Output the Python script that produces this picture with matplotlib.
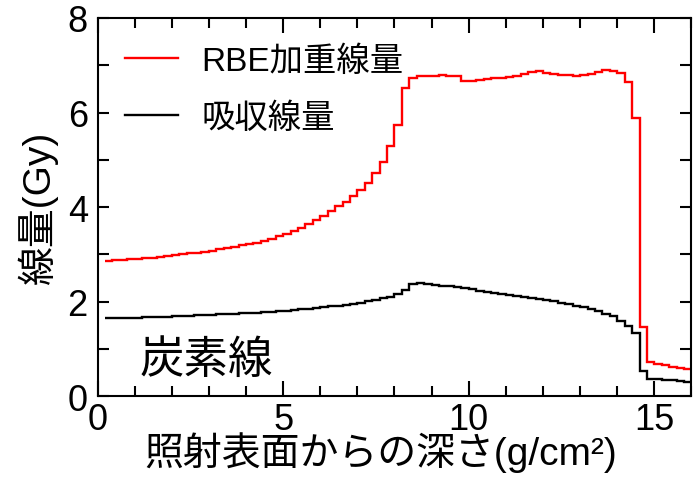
import numpy as np
import matplotlib
matplotlib.use("Agg")
import matplotlib.pyplot as plt
from matplotlib.ticker import MultipleLocator, FixedLocator

# depth bin edges (g/cm^2), 0.2 g/cm^2 wide
depth_edges = np.round(np.arange(0.2, 16.0001, 0.2), 1)

# RBE-weighted dose per depth bin (Gy)
rbe_dose = [
    2.87, 2.88, 2.89, 2.90, 2.91, 2.92, 2.93, 2.95, 2.96, 2.98,
    3.00, 3.02, 3.04, 3.06, 3.08, 3.11, 3.13, 3.16, 3.19, 3.22,
    3.25, 3.29, 3.33, 3.38, 3.43, 3.49, 3.56, 3.64, 3.73, 3.82,
    3.92, 4.02, 4.11, 4.23, 4.37, 4.52, 4.72, 4.96, 5.29, 5.74,
    6.52, 6.73, 6.77, 6.77, 6.77, 6.79, 6.78, 6.77, 6.66, 6.66,
    6.69, 6.71, 6.73, 6.74, 6.76, 6.78, 6.82, 6.85, 6.87, 6.83,
    6.81, 6.80, 6.80, 6.78, 6.79, 6.81, 6.86, 6.90, 6.87, 6.84,
    6.64, 5.88, 1.47, 0.72, 0.68, 0.66, 0.63, 0.60, 0.57,
]

# absorbed dose per depth bin (Gy)
abs_dose = [
    1.65, 1.65, 1.66, 1.66, 1.66, 1.67, 1.67, 1.68, 1.68, 1.69,
    1.69, 1.70, 1.71, 1.71, 1.72, 1.73, 1.74, 1.75, 1.76, 1.77,
    1.77, 1.78, 1.79, 1.80, 1.81, 1.83, 1.84, 1.85, 1.87, 1.88,
    1.90, 1.92, 1.94, 1.96, 1.98, 2.01, 2.04, 2.07, 2.11, 2.16,
    2.24, 2.37, 2.40, 2.38, 2.36, 2.34, 2.33, 2.31, 2.29, 2.26,
    2.23, 2.21, 2.19, 2.16, 2.14, 2.12, 2.10, 2.08, 2.06, 2.03,
    2.01, 1.98, 1.95, 1.91, 1.88, 1.84, 1.80, 1.75, 1.69, 1.60,
    1.48, 1.33, 0.53, 0.37, 0.36, 0.35, 0.34, 0.32, 0.31,
]

series_labels = ["RBE加重線量", "吸収線量"]
x_ticks = [0, 5, 10, 15]
y_ticks = [0, 2, 4, 6, 8]

plt.rcParams["font.family"] = ["Liberation Sans", "Noto Sans CJK JP", "DejaVu Sans"]

W, H = 693, 485
fig = plt.figure(figsize=(W / 100, H / 100), dpi=100)
ax = fig.add_axes([97.5 / W, 1 - 397.3 / H, (691.5 - 97.5) / W, (397.3 - 19.0) / H])

ax.stairs(rbe_dose, depth_edges, baseline=None, color="#ff0000", lw=1.7, label=series_labels[0])
ax.stairs(abs_dose, depth_edges, baseline=None, color="#000000", lw=1.7, label=series_labels[1])

ax.set_xlim(0, 16)
ax.set_ylim(0, 8)

ax.xaxis.set_major_locator(FixedLocator(x_ticks))
ax.xaxis.set_minor_locator(MultipleLocator(1))
ax.yaxis.set_major_locator(FixedLocator(y_ticks))
ax.yaxis.set_minor_locator(MultipleLocator(1))
ax.tick_params(which="both", direction="in", top=True, right=True, width=1.5, labelsize=26)
ax.tick_params(axis="x", which="major", length=11, pad=4)
ax.tick_params(axis="x", which="minor", length=7)
ax.tick_params(axis="y", which="both", length=8, pad=7)
for s in ax.spines.values():
    s.set_linewidth(1.5)

ax.set_xlabel("照射表面からの深さ(g/cm²)", fontsize=28, labelpad=0)
ax.xaxis.set_label_coords(0.476, -0.093)
ax.xaxis.label.set_va("top")
ax.set_ylabel("線量(Gy)", fontsize=28, labelpad=7)

leg = ax.legend(loc="center left", bbox_to_anchor=(125 / W, 1 - 90.5 / H),
                bbox_transform=fig.transFigure, fontsize=24, frameon=False,
                borderpad=0, borderaxespad=0, handlelength=1.6,
                handletextpad=0.7, labelspacing=0.75)

ax.text(0.183, 0.095, "炭素線", transform=ax.transAxes, fontsize=32, ha="center", va="center")

fig.savefig("out.png", dpi=100)
